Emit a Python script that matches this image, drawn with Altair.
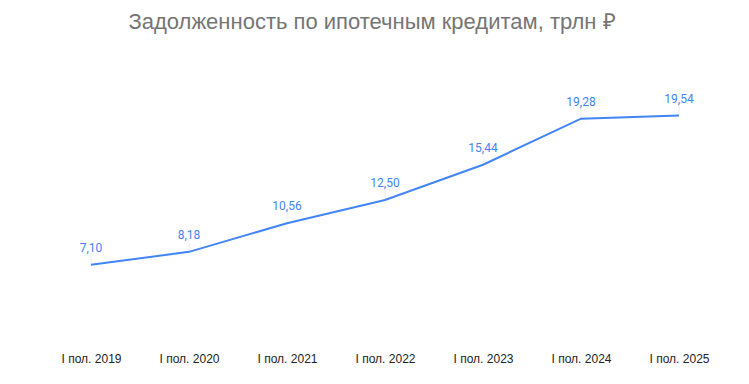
import altair as alt
import pandas as pd

periods = ["I пол. 2019", "I пол. 2020", "I пол. 2021", "I пол. 2022",
           "I пол. 2023", "I пол. 2024", "I пол. 2025"]
values = [7.10, 8.18, 10.56, 12.50, 15.44, 19.28, 19.54]

df = pd.DataFrame({"period": periods, "v": values})

x = alt.X("period:N", sort=periods,
          scale=alt.Scale(type="point", padding=0.5),
          axis=alt.Axis(title=None, domain=False, ticks=False, grid=False,
                        labelAngle=0, labelFont="Liberation Sans", labelFontSize=12,
                        labelColor="#222222", labelPadding=3))
y = alt.Y("v:Q", scale=alt.Scale(domain=[0, 25], nice=False, zero=True), axis=None)

base = alt.Chart(df).encode(x=x, y=y)

leader = base.transform_calculate(v2="datum.v + 0.95").mark_rule(
    color="#ececec", strokeWidth=1).encode(y2="v2:Q")

line = base.mark_line(color="#4285F4", strokeWidth=2)

labels = base.transform_calculate(
    lab="replace(format(datum.v, '.2f'), '.', ',')"
).mark_text(dy=-17, font="Roboto", fontSize=12, color="#4285F4").encode(text="lab:N")

chart = alt.layer(leader, line, labels).properties(
    width=686, height=300,
    title=alt.TitleParams("Задолженность по ипотечным кредитам, трлн ₽",
                          font="Liberation Sans", fontSize=22, fontWeight="normal",
                          color="#757575", anchor="middle", dx=-13, offset=16),
    autosize=alt.AutoSizeParams(type="none"),
    padding={"left": 34, "top": 42, "right": 12, "bottom": 30},
).configure_view(stroke=None)

chart.save("out.html", embed_options={"renderer": "svg", "actions": False})
